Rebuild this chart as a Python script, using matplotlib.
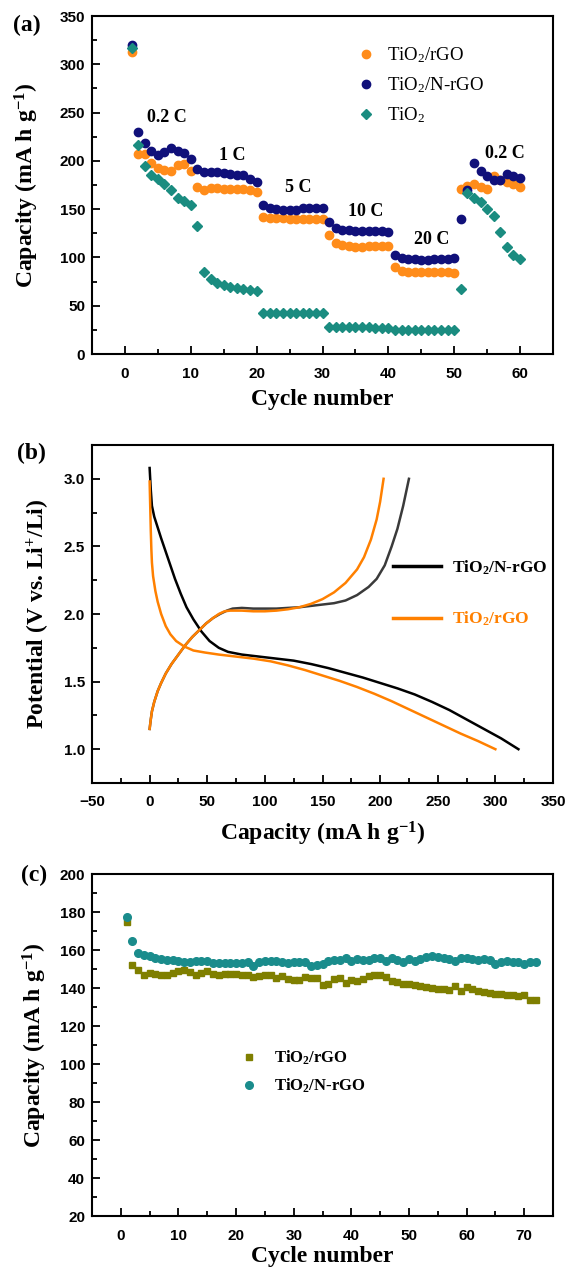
import matplotlib
matplotlib.use('Agg')
import matplotlib.pyplot as plt
from matplotlib.ticker import MultipleLocator
from matplotlib.lines import Line2D

plt.rcParams['font.family'] = 'Liberation Sans'
plt.rcParams['font.weight'] = 'bold'
plt.rcParams['font.size'] = 11
plt.rcParams['mathtext.default'] = 'regular'

SERIF = 'Liberation Serif'

# ---- panel (a): rate capability ----
cycles_a = list(range(1, 61))
rgo_a = [313,
         207, 207, 198, 193, 191, 189, 196, 197, 189,
         173, 170, 172, 172, 171, 171, 171, 171, 170, 168,
         142, 141, 141, 141, 140, 140, 140, 140, 140, 140,
         123, 115, 113, 112, 111, 111, 112, 112, 112, 112,
         90, 86, 85, 85, 85, 85, 85, 85, 85, 84,
         171, 174, 176, 173, 171, 184, 180, 178, 176, 173]
nrgo_a = [320,
          230, 219, 210, 206, 209, 213, 210, 208, 202,
          192, 188, 188, 188, 187, 186, 185, 185, 181, 178,
          154, 151, 150, 149, 149, 149, 151, 151, 151, 151,
          137, 130, 128, 128, 127, 127, 127, 127, 127, 126,
          103, 99, 98, 98, 97, 97, 98, 98, 98, 99,
          140, 170, 198, 190, 184, 180, 180, 186, 184, 182]
tio2_a = [317,
          216, 195, 185, 181, 176, 170, 162, 158, 154,
          133, 85, 78, 74, 71, 69, 68, 67, 66, 65,
          42, 42, 42, 42, 42, 42, 42, 42, 42, 42,
          28, 28, 28, 28, 28, 28, 28, 27, 27, 27,
          25, 25, 25, 25, 25, 25, 25, 25, 25, 25,
          67, 167, 162, 157, 150, 143, 126, 111, 102, 98]
rate_labels = ['0.2 C', '1 C', '5 C', '10 C', '20 C', '0.2 C']
rate_pos = [(6.3, 245), (16.3, 206), (26.3, 172), (36.5, 148), (46.6, 119), (57.7, 208)]

# ---- panel (b): charge/discharge profiles ----
nrgo_dis_cap = [0, 1, 2, 4, 7, 10, 14, 18, 22, 27, 32, 38, 45, 52, 60, 68, 80, 95, 110,
                125, 140, 155, 170, 185, 200, 215, 230, 245, 260, 275, 290, 305, 320]
nrgo_dis_v = [3.08, 2.92, 2.80, 2.72, 2.64, 2.56, 2.46, 2.36, 2.26, 2.15, 2.05, 1.96, 1.87,
              1.80, 1.75, 1.72, 1.70, 1.685, 1.67, 1.655, 1.63, 1.60, 1.565, 1.53, 1.49,
              1.45, 1.405, 1.35, 1.29, 1.22, 1.15, 1.08, 1.00]
nrgo_chg_cap = [0, 1, 2, 4, 7, 10, 14, 19, 25, 31, 37, 43, 49, 55, 61, 67, 72, 80, 90, 100,
                110, 120, 130, 140, 150, 160, 170, 180, 190, 197, 204, 210, 215, 220, 225]
nrgo_chg_v = [1.15, 1.22, 1.28, 1.35, 1.43, 1.49, 1.56, 1.63, 1.70, 1.77, 1.83, 1.88, 1.93,
              1.97, 2.00, 2.025, 2.04, 2.045, 2.04, 2.04, 2.04, 2.045, 2.05, 2.06, 2.07,
              2.08, 2.10, 2.14, 2.20, 2.26, 2.36, 2.50, 2.63, 2.80, 3.00]
rgo_dis_cap = [0, 0.5, 1, 1.5, 2, 3, 5, 7, 10, 14, 18, 23, 30, 38, 48, 60, 75, 90, 105, 120,
               135, 150, 165, 180, 195, 210, 225, 240, 255, 270, 285, 300]
rgo_dis_v = [2.98, 2.80, 2.62, 2.48, 2.38, 2.28, 2.17, 2.09, 2.00, 1.91, 1.85, 1.80, 1.76,
             1.73, 1.715, 1.70, 1.685, 1.67, 1.65, 1.62, 1.585, 1.545, 1.505, 1.46, 1.41,
             1.355, 1.295, 1.235, 1.175, 1.115, 1.06, 1.00]
rgo_chg_cap = [0, 1, 2, 4, 7, 10, 14, 19, 25, 31, 37, 43, 49, 55, 60, 65, 70, 80, 90, 100,
               110, 120, 130, 140, 150, 160, 170, 180, 186, 192, 197, 200, 203]
rgo_chg_v = [1.15, 1.22, 1.28, 1.35, 1.43, 1.49, 1.56, 1.63, 1.70, 1.77, 1.83, 1.88, 1.93,
             1.97, 2.00, 2.02, 2.025, 2.025, 2.02, 2.02, 2.025, 2.035, 2.05, 2.075, 2.11,
             2.16, 2.23, 2.33, 2.42, 2.55, 2.70, 2.83, 3.00]

# ---- panel (c): cycling at 1 C ----
cycles_c = list(range(1, 73))
rgo_c = [174.6, 152.3, 149.3, 147.0, 148.0, 147.6, 147.0, 147.0, 148.0, 148.8,
         149.7, 148.6, 147.0, 148.0, 148.8, 147.4, 147.0, 147.6, 147.6, 147.4,
         147.0, 146.7, 145.8, 146.2, 146.7, 146.9, 145.3, 146.5, 144.8, 144.1,
         144.1, 145.8, 145.1, 145.1, 141.8, 142.3, 144.8, 145.3, 142.7, 144.4,
         143.6, 144.8, 146.2, 147.0, 147.0, 145.8, 143.6, 143.0, 142.3, 142.0,
         141.6, 141.3, 140.6, 139.9, 139.5, 139.5, 139.2, 140.9, 138.3, 140.6,
         139.5, 138.3, 137.8, 137.4, 137.1, 136.7, 136.4, 136.4, 136.0, 136.4,
         133.6, 133.6]
nrgo_c = [177.2, 165.0, 158.5, 157.6, 156.7, 155.8, 155.5, 154.6, 154.6, 154.1,
          153.6, 153.6, 154.4, 154.4, 154.0, 153.2, 152.9, 152.9, 153.2, 153.2,
          153.2, 153.9, 151.8, 153.6, 154.3, 154.3, 154.1, 153.6, 153.2, 153.6,
          153.9, 153.9, 151.4, 152.0, 152.7, 154.0, 155.0, 154.6, 155.6, 154.2,
          155.3, 155.0, 154.6, 155.8, 155.6, 154.4, 156.0, 154.6, 153.6, 155.5,
          154.1, 155.3, 156.4, 156.7, 156.4, 156.0, 155.5, 154.1, 155.6, 156.0,
          155.3, 154.6, 155.3, 154.6, 152.5, 153.9, 154.1, 153.9, 153.6, 152.7,
          153.7, 153.6]


def style_axes(ax, xmaj, xmin, ymaj, ymin):
    for s in ax.spines.values():
        s.set_linewidth(1.5)
    ax.xaxis.set_major_locator(MultipleLocator(xmaj))
    ax.xaxis.set_minor_locator(MultipleLocator(xmin))
    ax.yaxis.set_major_locator(MultipleLocator(ymaj))
    ax.yaxis.set_minor_locator(MultipleLocator(ymin))
    ax.tick_params(which='both', direction='in', top=False, right=False, width=1.3)
    ax.tick_params(which='major', length=6)
    ax.tick_params(which='minor', length=3.5)
    ax.tick_params(axis='x', pad=9)
    ax.tick_params(axis='y', pad=5)


def label_font(size=17):
    return {'family': SERIF, 'weight': 'bold', 'size': size}


fig = plt.figure(figsize=(5.7, 12.76), dpi=100)
W, H = 570.0, 1276.0
ax_a = fig.add_axes([92 / W, 1 - 354 / H, 461 / W, 338 / H])
ax_b = fig.add_axes([92 / W, 1 - 783 / H, 461 / W, 338 / H])
ax_c = fig.add_axes([92 / W, 1 - 1216 / H, 461 / W, 342 / H])

# (a)
ax_a.plot(cycles_a, rgo_a, 'o', color='#FF8C1A', ms=6, label='TiO$_2$/rGO')
ax_a.plot(cycles_a, nrgo_a, 'o', color='#10107A', ms=6, label='TiO$_2$/N-rGO')
ax_a.plot(cycles_a, tio2_a, 'D', color='#1A8C80', ms=5.5, label='TiO$_2$')
for txt, (x, y) in zip(rate_labels, rate_pos):
    ax_a.text(x, y, txt, ha='center', va='center', fontdict=label_font(13))
ax_a.set_xlim(-5, 65)
ax_a.set_ylim(0, 350)
style_axes(ax_a, 10, 5, 50, 25)
ax_a.set_xlabel('Cycle number', fontdict=label_font())
ax_a.set_ylabel('Capacity (mA h g$^{-1}$)', fontdict=label_font())
ax_a.xaxis.set_label_coords(0.5, -0.105)
ax_a.yaxis.set_label_coords(-0.11, 0.5)
ax_a.legend(loc='upper left', bbox_to_anchor=(0.575, 0.912), frameon=False,
            borderpad=0, borderaxespad=0, handlelength=1.0, handletextpad=0.6,
            labelspacing=0.55, prop={'family': SERIF, 'weight': 'normal', 'size': 13.5})

# (b)
ax_b.plot(nrgo_chg_cap, nrgo_chg_v, color='#3a3a3a', lw=1.8)
ax_b.plot(nrgo_dis_cap, nrgo_dis_v, color='black', lw=1.8)
ax_b.plot(rgo_chg_cap, rgo_chg_v, color='#FF8000', lw=1.8)
ax_b.plot(rgo_dis_cap, rgo_dis_v, color='#FF8000', lw=1.8)
ax_b.set_xlim(-50, 350)
ax_b.set_ylim(0.75, 3.25)
style_axes(ax_b, 50, 25, 0.5, 0.25)
ax_b.set_xlabel('Capacity (mA h g$^{-1}$)', fontdict=label_font())
ax_b.set_ylabel('Potential (V vs. Li$^{+}$/Li)', fontdict=label_font())
ax_b.xaxis.set_label_coords(0.5, -0.11)
ax_b.yaxis.set_label_coords(-0.087, 0.5)
handles_b = [Line2D([], [], color='black', lw=2.5), Line2D([], [], color='#FF8000', lw=2.5)]
ax_b.legend(handles_b, ['TiO$_2$/N-rGO', 'TiO$_2$/rGO'], loc='upper left',
            bbox_to_anchor=(0.652, 0.665), frameon=False, borderpad=0, borderaxespad=0,
            handlelength=2.8, handletextpad=0.6, labelspacing=1.9, labelcolor='linecolor',
            prop={'family': SERIF, 'weight': 'bold', 'size': 12.5})

# (c)
ax_c.plot(cycles_c, rgo_c, 's', color='#7F7F00', ms=4.5, label='TiO$_2$/rGO')
ax_c.plot(cycles_c, nrgo_c, 'o', color='#1A8C8C', ms=5.5, label='TiO$_2$/N-rGO')
ax_c.set_xlim(-5, 75)
ax_c.set_ylim(20, 200)
style_axes(ax_c, 10, 5, 20, 10)
ax_c.set_xlabel('Cycle number', fontdict=label_font())
ax_c.set_ylabel('Capacity (mA h g$^{-1}$)', fontdict=label_font())
ax_c.xaxis.set_label_coords(0.5, -0.088)
ax_c.yaxis.set_label_coords(-0.093, 0.5)
ax_c.legend(loc='upper left', bbox_to_anchor=(0.322, 0.49), frameon=False,
            borderpad=0, borderaxespad=0, handlelength=1.0, handletextpad=1.0,
            labelspacing=0.6, prop={'family': SERIF, 'weight': 'bold', 'size': 12})

fig.text(27 / W, 1 - 25 / H, '(a)', ha='center', va='center', fontdict=label_font(17))
fig.text(31 / W, 1 - 453 / H, '(b)', ha='center', va='center', fontdict=label_font(17))
fig.text(34 / W, 1 - 875 / H, '(c)', ha='center', va='center', fontdict=label_font(17))

fig.savefig('out.png', dpi=100)
